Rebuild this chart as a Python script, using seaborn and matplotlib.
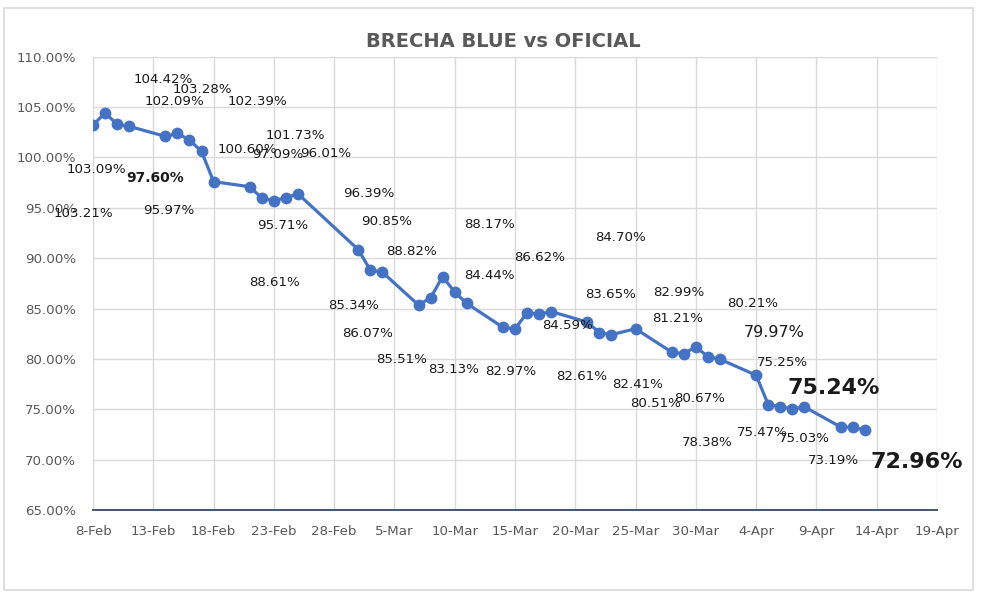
import matplotlib
matplotlib.use("Agg")
import matplotlib.pyplot as plt
import matplotlib.dates as mdates
from matplotlib.patches import Rectangle
import numpy as np
import pandas as pd
import seaborn as sns

# ---------------- data ----------------
dates = ["2022-02-08", "2022-02-09", "2022-02-10", "2022-02-11",
         "2022-02-14", "2022-02-15", "2022-02-16", "2022-02-17", "2022-02-18",
         "2022-02-21", "2022-02-22", "2022-02-23", "2022-02-24", "2022-02-25",
         "2022-03-02", "2022-03-03", "2022-03-04",
         "2022-03-07", "2022-03-08", "2022-03-09", "2022-03-10", "2022-03-11",
         "2022-03-14", "2022-03-15", "2022-03-16", "2022-03-17", "2022-03-18",
         "2022-03-21", "2022-03-22", "2022-03-23", "2022-03-25",
         "2022-03-28", "2022-03-29", "2022-03-30", "2022-03-31", "2022-04-01",
         "2022-04-04", "2022-04-05", "2022-04-06", "2022-04-07", "2022-04-08",
         "2022-04-11", "2022-04-12", "2022-04-13"]
brecha = [103.21, 104.42, 103.28, 103.09,
          102.09, 102.39, 101.73, 100.60, 97.60,
          97.09, 95.97, 95.71, 96.01, 96.39,
          90.85, 88.82, 88.61,
          85.34, 86.07, 88.17, 86.62, 85.51,
          83.13, 82.97, 84.59, 84.44, 84.70,
          83.65, 82.61, 82.41, 82.99,
          80.67, 80.51, 81.21, 80.21, 79.97,
          78.38, 75.47, 75.25, 75.03, 75.24,
          73.25, 73.19, 72.96]
x_ticks = ["2022-02-08", "2022-02-13", "2022-02-18", "2022-02-23", "2022-02-28",
           "2022-03-05", "2022-03-10", "2022-03-15", "2022-03-20", "2022-03-25",
           "2022-03-30", "2022-04-04", "2022-04-09", "2022-04-14", "2022-04-19"]
y_ticks = [65, 70, 75, 80, 85, 90, 95, 100, 105, 110]
title = "BRECHA BLUE vs OFICIAL"

# label placement (days after 8-Feb, y value) -- layout, not data
label_pos = [(-0.83, 94.46), (5.80, 107.77), (9.04, 106.71), (0.25, 98.76),
             (6.72, 105.55), (13.60, 105.55), (16.75, 102.14), (12.81, 100.75), (5.14, 97.94),
             (15.34, 100.25), (6.26, 94.72), (15.71, 93.20), (19.32, 100.42), (22.89, 96.38),
             (24.32, 93.63), (26.45, 90.65), (15.09, 87.61),
             (21.64, 85.29), (22.78, 82.48), (32.92, 93.37), (37.04, 90.05), (25.62, 79.90),
             (29.89, 78.90), (34.66, 78.73), (39.39, 83.27), (32.84, 88.24), (43.76, 92.08),
             (42.95, 86.35), (40.49, 78.24), (45.19, 77.41), (48.59, 86.58),
             (50.33, 76.02), (46.68, 75.53), (48.51, 83.97), (54.73, 85.46), (56.47, 82.61),
             (50.91, 71.72), (55.53, 72.68), (57.21, 79.63), (59.04, 72.05), (61.44, 77.09),
             None, (61.44, 69.90), (68.32, 69.80)]
label_style = {8: dict(fontsize=10, fontweight="bold"),
               35: dict(fontsize=11.5),
               40: dict(fontsize=16, fontweight="bold"),
               43: dict(fontsize=16, fontweight="bold")}

df = pd.DataFrame({"fecha": pd.to_datetime(dates), "brecha": brecha})

# ---------------- style ----------------
sns.set_theme(style="white")
plt.rcParams["font.family"] = ["DejaVu Sans"]

fig = plt.figure(figsize=(9.81, 5.97), dpi=100)
fig.patch.set_facecolor("white")
ax = fig.add_axes([93 / 981, 1 - 510 / 597, (937 - 93) / 981, (510 - 56.7) / 597])

sns.lineplot(data=df, x="fecha", y="brecha", ax=ax, color="#4472C4",
             linewidth=2.3, marker="o", markersize=8.5, markeredgewidth=0,
             zorder=3)

start = pd.Timestamp(x_ticks[0])
ax.set_xlim(pd.Timestamp(x_ticks[0]), pd.Timestamp(x_ticks[-1]))
ax.set_ylim(y_ticks[0], y_ticks[-1])

xt = pd.to_datetime(x_ticks)
ax.set_xticks(xt)
ax.set_xticklabels([f"{d.day}-{d.strftime('%b')}" for d in xt])
ax.set_yticks(y_ticks)
ax.set_yticklabels([f"{v:.2f}%" for v in y_ticks])
ax.tick_params(axis="x", length=0, pad=11, labelsize=9.6, colors="#595959")
ax.tick_params(axis="y", length=0, pad=12, labelsize=9.6, colors="#595959")
ax.set_xlabel("")
ax.set_ylabel("")

ax.grid(True, color="#D9D9D9", linewidth=1.0)
ax.set_axisbelow(True)
for s in ["top", "right", "left"]:
    ax.spines[s].set_visible(False)
ax.spines["bottom"].set_color("#44546A")
ax.spines["bottom"].set_linewidth(1.4)
ax.spines["bottom"].set_zorder(4)

# data labels
for i, (d, v) in enumerate(zip(df["fecha"], brecha)):
    pos = label_pos[i]
    if pos is None:
        continue
    st = dict(fontsize=9.6)
    st.update(label_style.get(i, {}))
    ax.text(start + pd.Timedelta(days=pos[0]), pos[1], f"{v:.2f}%",
            ha="center", va="center", color="#1a1a1a", zorder=5,
            clip_on=False, **st)

fig.text(503 / 981, 1 - 41.7 / 597, title, ha="center", va="center",
         fontsize=14, fontweight="bold", color="#595959")

# chart area border
fig.add_artist(Rectangle((4 / 981, 1 - 590 / 597), (973 - 4) / 981, (590 - 8) / 597,
                         transform=fig.transFigure, fill=False,
                         edgecolor="#D9D9D9", linewidth=1.2))

fig.savefig("out.png", dpi=100, facecolor="white")
